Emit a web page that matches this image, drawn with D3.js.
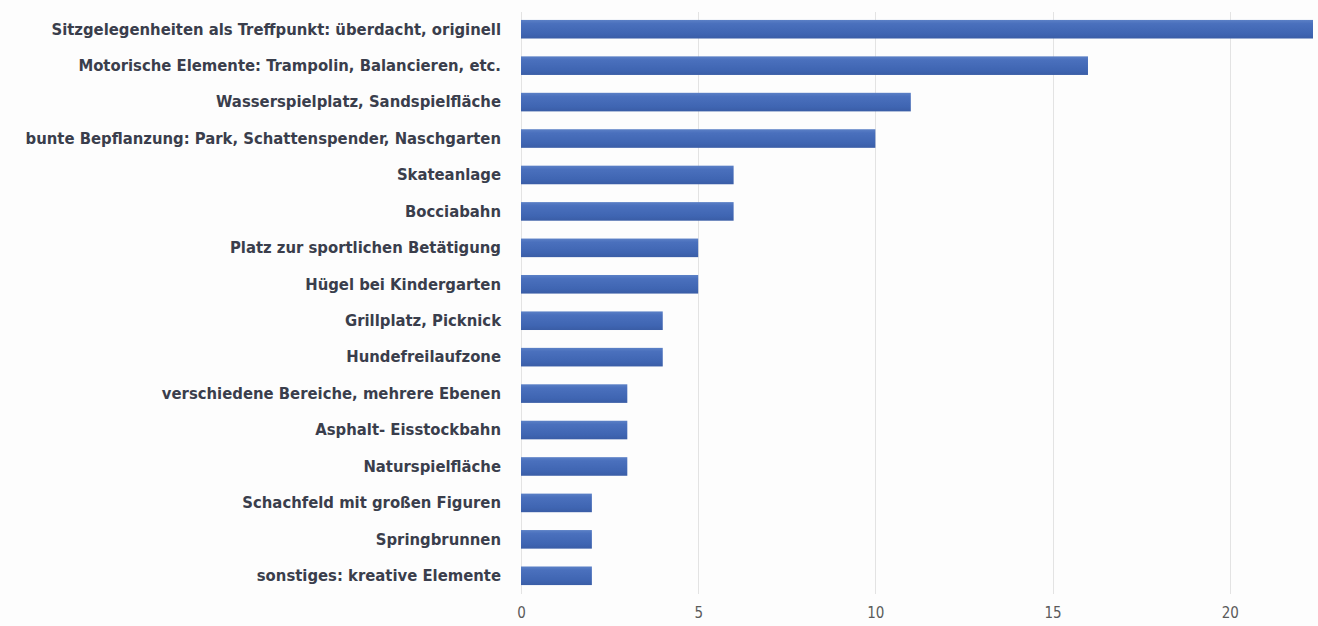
<!DOCTYPE html>
<html><head><meta charset="utf-8">
<script src="https://cdn.jsdelivr.net/npm/d3@7"></script>
<style>
html,body{margin:0;padding:0;background:#fdfdfd;}
svg{display:block;}
</style></head>
<body>
<svg id="chart" width="1318" height="626"></svg>
<script>
const categories = [
  "Sitzgelegenheiten als Treffpunkt: überdacht, originell",
  "Motorische Elemente: Trampolin, Balancieren, etc.",
  "Wasserspielplatz, Sandspielfläche",
  "bunte Bepflanzung: Park, Schattenspender, Naschgarten",
  "Skateanlage",
  "Bocciabahn",
  "Platz zur sportlichen Betätigung",
  "Hügel bei Kindergarten",
  "Grillplatz, Picknick",
  "Hundefreilaufzone",
  "verschiedene Bereiche, mehrere Ebenen",
  "Asphalt- Eisstockbahn",
  "Naturspielfläche",
  "Schachfeld mit großen Figuren",
  "Springbrunnen",
  "sonstiges: kreative Elemente"
];
const values = [23, 16, 11, 10, 6, 6, 5, 5, 4, 4, 3, 3, 3, 2, 2, 2];
const tickValues = [0, 5, 10, 15, 20];
const xMax = 22.35;

const svg = d3.select("#chart");
const x = d3.scaleLinear().domain([0, xMax]).range([521, 1313]);
const y = d3.scaleBand().domain(categories).range([11, 594]).paddingInner(0.49).paddingOuter(0.245);

const defs = svg.append("defs");
const grad = defs.append("linearGradient").attr("id","barGrad").attr("x1",0).attr("y1",0).attr("x2",0).attr("y2",1);
grad.append("stop").attr("offset","0%").attr("stop-color","#5b80c6");
grad.append("stop").attr("offset","20%").attr("stop-color","#4a70bd");
grad.append("stop").attr("offset","75%").attr("stop-color","#3f65b2");
grad.append("stop").attr("offset","100%").attr("stop-color","#3a5da6");
defs.append("clipPath").attr("id","plotClip").append("rect")
  .attr("x", x(0)).attr("y", 0).attr("width", x(xMax) - x(0)).attr("height", 626);

// gridlines
svg.append("g").selectAll("line").data(tickValues).join("line")
  .attr("x1", d => Math.round(x(d)) + 0.5).attr("x2", d => Math.round(x(d)) + 0.5)
  .attr("y1", 12).attr("y2", 594)
  .attr("stroke", "#e3e3e3").attr("stroke-width", 1);

// bars
svg.append("g").attr("clip-path","url(#plotClip)").selectAll("rect").data(values).join("rect")
  .attr("x", x(0))
  .attr("y", (d, i) => y(categories[i]))
  .attr("width", d => x(d) - x(0))
  .attr("height", y.bandwidth())
  .attr("fill", "url(#barGrad)");

// category labels
const yAxis = d3.axisLeft(y).tickSize(0).tickPadding(0);
const gy = svg.append("g").attr("transform", "translate(501,0)").call(yAxis);
gy.select(".domain").remove();
gy.selectAll("text")
  .attr("fill", "#3a3e4c")
  .style("font-family", "'DejaVu Sans Condensed','DejaVu Sans',sans-serif")
  .style("font-weight", "bold")
  .style("font-size", "16.5px");

// x tick labels
const xAxis = d3.axisBottom(x).tickValues(tickValues).tickSize(0).tickPadding(0).tickFormat(d3.format("d"));
const gx = svg.append("g").attr("transform", "translate(0,607)").call(xAxis);
gx.select(".domain").remove();
gx.selectAll("text")
  .attr("fill", "#5a5a5a")
  .style("font-family", "'DejaVu Sans Condensed','DejaVu Sans',sans-serif")
  .style("font-size", "15px");
</script>
</body></html>
